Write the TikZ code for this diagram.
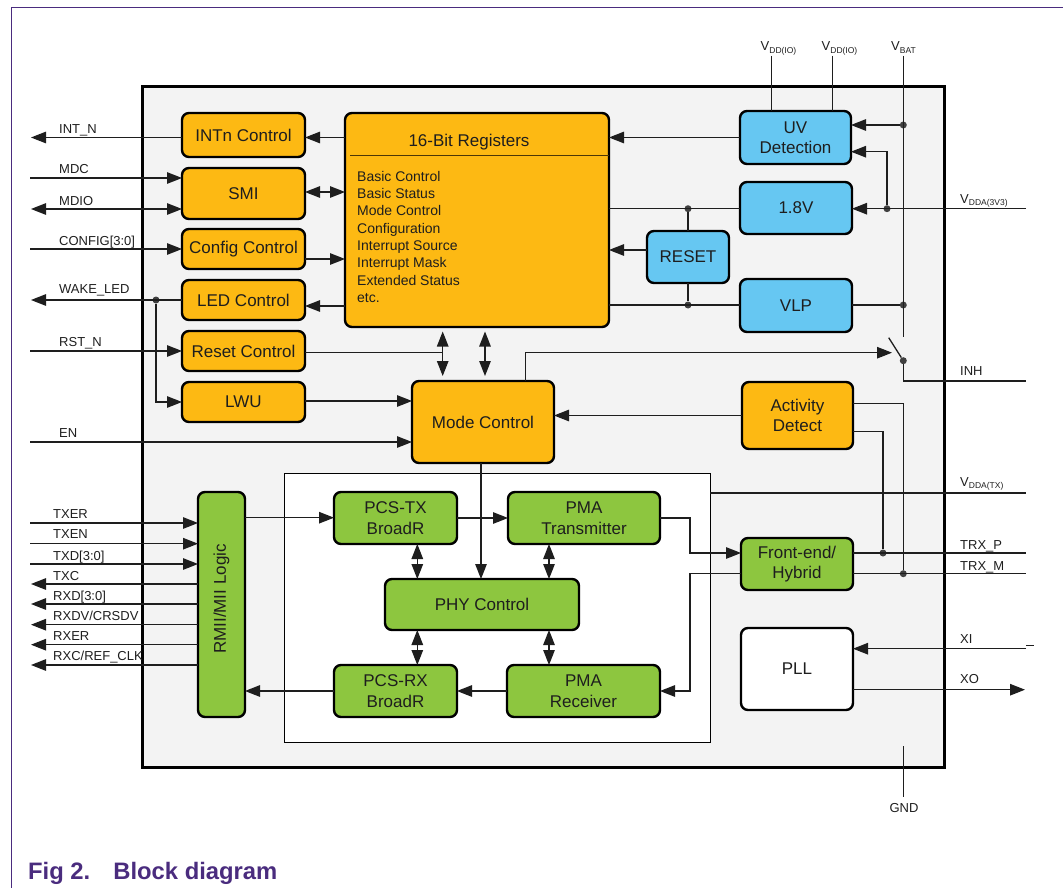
\documentclass[tikz,border=0pt]{standalone}
\usepackage{fontspec}
\usepackage{graphicx}
\setmainfont{Liberation Sans}
\usepackage{tikz}
\usetikzlibrary{arrows.meta, positioning}
\usepackage{xcolor}
\definecolor{ctrlorange}{HTML}{FDB913}
\definecolor{powerblue}{HTML}{66C7F2}
\definecolor{phygreen}{HTML}{8DC63F}
\definecolor{chipgray}{HTML}{F3F3F3}
\definecolor{nxppurple}{HTML}{4A2C7E}
\definecolor{inkdark}{HTML}{1E1E1E}
\newcommand{\vsub}[1]{V\raisebox{-0.35ex}{\fontsize{8.5}{9}\selectfont #1}}

\begin{document}
\begin{tikzpicture}
            [
            x=1pt, y=-1pt,
            block/.style={
                rectangle,
                draw=black,
                line width=2.4pt,
                rounded corners=7pt,
                outer sep=0pt,
                inner sep=0pt,
                align=center,
                text=inkdark,
                font=\fontsize{17}{20.5}\selectfont
            },
            ctrl/.style={
                block,
                fill=ctrlorange
            },
            power/.style={
                block,
                fill=powerblue
            },
            phy/.style={
                block,
                fill=phygreen
            },
            pinlabel/.style={
                anchor=west,
                inner sep=0pt,
                text height=9.3pt,
                text depth=0pt,
                text=inkdark,
                font=\fontsize{13}{13}\selectfont
            },
            wire/.style={
                line width=1.3pt,
                draw=inkdark
            },
            arrow/.style={
                wire,
                -{Triangle[length=15pt, width=11.5pt]}
            },
            biarrow/.style={
                wire,
                {Triangle[length=15pt, width=11.5pt]}-{Triangle[length=15pt, width=11.5pt]}
            },
            junction/.style={
                circle,
                fill=black!75,
                minimum size=7pt,
                inner sep=0pt
            }
            ]
            \useasboundingbox (0,0) rectangle (1063,888);

            % page frame and caption
            \draw[nxppurple, line width=1.2pt] (11.5,888) -- (11.5,7.5) -- (1063,7.5);
            \node (caption) [anchor=west, inner sep=0pt, text=nxppurple, font=\fontsize{23.8}{24}\selectfont\bfseries] at (28,873) {Fig 2.\hspace{23pt}Block diagram};

            % chip outline and the white PHY area
            \node (chip) [draw=black, line width=3pt, fill=chipgray, minimum width=802pt, minimum height=680pt, outer sep=0pt] at (543,427) {};
            \node (phyarea) [draw=black, line width=0.8pt, fill=white, minimum width=425.5pt, minimum height=269pt, outer sep=0pt] at (497.25,607.5) {};

            % left column of control blocks
            \node (intn) [ctrl, minimum width=123pt, minimum height=44pt] at (243.5,135) {INTn Control};
            \node (smi) [ctrl, minimum width=123pt, minimum height=51pt, below=11pt of intn] {SMI};
            \node (config) [ctrl, minimum width=123pt, minimum height=40pt, below=10pt of smi] {Config Control};
            \node (led) [ctrl, minimum width=123pt, minimum height=40pt, below=11pt of config] {LED Control};
            \node (rstctrl) [ctrl, minimum width=123pt, minimum height=40pt, below=11pt of led] {Reset Control};
            \node (lwu) [ctrl, minimum width=123pt, minimum height=40pt, below=11pt of rstctrl] {LWU};

            % register block
            \node (regs) [ctrl, minimum width=264pt, minimum height=214pt] at (477,220) {};
            \node (regstitle) [inner sep=0pt, text=inkdark, font=\fontsize{17}{17}\selectfont] at (469,142) {16-Bit Registers};
            \draw[draw=black!70!ctrlorange, line width=0.8pt] (regs.west |- 0,155.7) ++(5,0) coordinate (ruleleft) -- (regs.east |- 0,155.7);
            \node (regslist) [anchor=north west, inner sep=0pt, align=left, text=inkdark, font=\fontsize{14}{17.3}\selectfont] at (357,171) {Basic Control\\Basic Status\\Mode Control\\Configuration\\Interrupt Source\\Interrupt Mask\\Extended Status\\etc.};

            % power blocks
            \node (uv) [power, minimum width=111pt, minimum height=53pt] at (795.5,137.5) {UV\\Detection};
            \node (ldo) [power, minimum width=112pt, minimum height=52pt] at (796,208) {1.8V};
            \node (reset) [power, minimum width=82pt, minimum height=52pt] at (688,257) {RESET};
            \node (vlp) [power, minimum width=112pt, minimum height=53pt] at (796,305.5) {VLP};

            % mode control and activity detect
            \node (mode) [ctrl, minimum width=142pt, minimum height=82pt] at (483,422) {Mode Control};
            \node (activity) [ctrl, minimum width=111pt, minimum height=67pt] at (797.5,415.5) {Activity\\Detect};

            % PHY blocks
            \node (rmii) [phy, minimum width=47pt, minimum height=225pt] at (221.5,604.5) {\rotatebox{90}{\hspace{11pt}RMII/MII Logic}};
            \node (pcstx) [phy, minimum width=123pt, minimum height=52pt] at (395.5,518) {PCS-TX\\BroadR};
            \node (pmatx) [phy, minimum width=152pt, minimum height=52pt] at (584,518) {PMA\\Transmitter};
            \node (phyctrl) [phy, minimum width=194pt, minimum height=51pt] at (482,604.5) {PHY Control};
            \node (pcsrx) [phy, minimum width=123pt, minimum height=52pt] at (395.5,691) {PCS-RX\\BroadR};
            \node (pmarx) [phy, minimum width=153pt, minimum height=52pt] at (583.5,691) {PMA\\Receiver};
            \node (frontend) [phy, minimum width=112pt, minimum height=52pt] at (797,564) {Front-end/\\Hybrid};
            \node (pll) [block, fill=white, minimum width=112pt, minimum height=82pt] at (797,669) {PLL};

            % free ends of the pins on the left
            \coordinate (pinINTN) at (31,137.5);
            \coordinate (pinMDC) at (30,178);
            \coordinate (pinMDIO) at (31,209);
            \coordinate (pinCONFIG) at (30,249);
            \coordinate (pinWAKE) at (31,300);
            \coordinate (pinRST) at (30,351);
            \coordinate (pinEN) at (30,442);
            \coordinate (pinTXER) at (30,523);
            \coordinate (pinTXEN) at (30,543.7);
            \coordinate (pinTXD) at (30,564);
            \coordinate (pinTXC) at (31,584);
            \coordinate (pinRXD) at (31,604);
            \coordinate (pinRXDV) at (31,624.7);
            \coordinate (pinRXER) at (31,644.7);
            \coordinate (pinRXC) at (31,665);

            % free ends of the pins on the other sides
            \coordinate (pinVDDA) at (1026,208.7);
            \coordinate (pinINH) at (1026,381);
            \coordinate (pinVDDTX) at (1026,493);
            \coordinate (pinTRXP) at (1026,553);
            \coordinate (pinTRXM) at (1026,573.7);
            \coordinate (pinXI) at (1026,648.7);
            \coordinate (pinXO) at (1025,689.7);
            \coordinate (pinVDDa) at (771.7,56);
            \coordinate (pinVDDb) at (832.3,56);
            \coordinate (pinVBAT) at (903.3,56);
            \coordinate (pinGNDin) at (903.3,746);
            \coordinate (pinGND) at (903.3,797);

            % pin labels
            \node (lblINTN) [pinlabel] at (59,129.3) {INT\_N};
            \node (lblMDC) [pinlabel] at (59,169.3) {MDC};
            \node (lblMDIO) [pinlabel] at (59,200.6) {MDIO};
            \node (lblCONFIG) [pinlabel] at (59,240.5) {CONFIG[3:0]};
            \node (lblWAKE) [pinlabel] at (59,289.3) {WAKE\_LED};
            \node (lblRST) [pinlabel] at (59,342) {RST\_N};
            \node (lblEN) [pinlabel] at (59,433.3) {EN};
            \node (lblTXER) [pinlabel] at (53,514.3) {TXER};
            \node (lblTXEN) [pinlabel] at (53,534) {TXEN};
            \node (lblTXD) [pinlabel] at (53,555.7) {TXD[3:0]};
            \node (lblTXC) [pinlabel] at (53,575.7) {TXC};
            \node (lblRXD) [pinlabel] at (53,595.7) {RXD[3:0]};
            \node (lblRXDV) [pinlabel] at (53,615.7) {RXDV/CRSDV};
            \node (lblRXER) [pinlabel] at (53,636) {RXER};
            \node (lblRXC) [pinlabel] at (53,656) {RXC/REF\_CLK};
            \node (lblVDDa) [pinlabel, anchor=center] at (778.5,46) {\vsub{DD(IO)}};
            \node (lblVDDb) [pinlabel, anchor=center] at (839.5,46) {\vsub{DD(IO)}};
            \node (lblVBAT) [pinlabel, anchor=center] at (903.5,46) {\vsub{BAT}};
            \node (lblVDDA) [pinlabel] at (960,198.5) {\vsub{DDA(3V3)}};
            \node (lblINH) [pinlabel] at (960,370.5) {INH};
            \node (lblVDDTX) [pinlabel] at (960,481.5) {\vsub{DDA(TX)}};
            \node (lblTRXP) [pinlabel] at (960,544.5) {TRX\_P};
            \node (lblTRXM) [pinlabel] at (960,565.5) {TRX\_M};
            \node (lblXI) [pinlabel] at (960,638.5) {XI};
            \node (lblXO) [pinlabel] at (960,678.5) {XO};
            \node (lblGND) [pinlabel, anchor=center] at (904,808) {GND};

            % junction dots
            \node (dotVbatUv) [junction] at (903.3,125) {};
            \node (dotVbatVlp) [junction] at (903.3,305) {};
            \node (dotVdda) [junction] at (887,208.7) {};
            \node (dotLdo) [junction] at (688,208.7) {};
            \node (dotVlp) [junction] at (688,305) {};
            \node (dotSwitch) [junction] at (903.3,360.7) {};
            \node (dotWake) [junction] at (156,300) {};
            \node (dotTrxP) [junction] at (883,553) {};
            \node (dotTrxM) [junction] at (903.3,573.7) {};

            % left pins
            \draw[arrow] (intn.west |- pinINTN) -- (pinINTN);
            \draw[arrow] (pinMDC) -- (pinMDC -| smi.west);
            \draw[biarrow] (pinMDIO) -- (pinMDIO -| smi.west);
            \draw[arrow] (pinCONFIG) -- (pinCONFIG -| config.west);
            \draw[arrow] (led.west |- pinWAKE) -- (pinWAKE);
            \draw[arrow] (dotWake) |- (lwu.west);
            \draw[arrow] (pinRST) -- (pinRST -| rstctrl.west);
            \draw[arrow] (pinEN) -- (pinEN -| mode.west);
            \draw[arrow] (pinTXER) -- (pinTXER -| rmii.west);
            \draw[arrow] (pinTXEN) -- (pinTXEN -| rmii.west);
            \draw[arrow] (pinTXD) -- (pinTXD -| rmii.west);
            \draw[arrow] (rmii.west |- pinTXC) -- (pinTXC);
            \draw[arrow] (rmii.west |- pinRXD) -- (pinRXD);
            \draw[arrow] (rmii.west |- pinRXDV) -- (pinRXDV);
            \draw[arrow] (rmii.west |- pinRXER) -- (pinRXER);
            \draw[arrow] (rmii.west |- pinRXC) -- (pinRXC);

            % registers to the control column
            \draw[arrow] (regs.west |- pinINTN) -- (intn.east |- pinINTN);
            \draw[biarrow] (smi.east |- 0,192) -- (regs.west |- 0,192);
            \draw[arrow] (config.east |- 0,259) -- (regs.west |- 0,259);
            \draw[arrow] (regs.west |- 0,306) -- (led.east |- 0,306);

            % registers to mode control
            \coordinate (busA) at (442.7,331.5);
            \coordinate (busB) at (485,331.5);
            \draw[biarrow] (busA) -- (busA |- 0,376);
            \draw[biarrow] (busB) -- (busB |- 0,376);
            \draw[wire] (rstctrl.east |- 0,352.7) -- (busA |- 0,352.7);
            \draw[arrow] (lwu.east |- 0,401) -- (mode.west |- 0,401);

            % power side
            \draw[wire] (pinVDDa) -- (pinVDDa |- uv.north);
            \draw[wire] (pinVDDb) -- (pinVDDb |- uv.north);
            \coordinate (vbatEnd) at (903.3,336.7);
            \draw[wire] (pinVBAT) -- (vbatEnd);
            \draw[arrow] (dotVbatUv) -- (dotVbatUv -| uv.east);
            \draw[arrow] (uv.west) -- (uv.west -| regs.east);
            \draw[arrow] (dotVdda) |- (uv.east |- 0,151.7);
            \draw[arrow] (pinVDDA) -- (pinVDDA -| ldo.east);
            \draw[wire] (regs.east |- dotLdo) -- (ldo.west |- dotLdo);
            \draw[wire] (regs.east |- dotVlp) -- (vlp.west |- dotVlp);
            \draw[wire] (vlp.east |- dotVbatVlp) -- (dotVbatVlp);
            \draw[wire] (dotLdo) -- (reset.north);
            \draw[wire] (reset.south) -- (dotVlp);
            \draw[arrow] (reset.west |- 0,250) -- (regs.east |- 0,250);

            % inhibit switch
            \coordinate (switchTop) at (888.7,337.7);
            \draw[wire] (switchTop) -- (dotSwitch);
            \draw[wire] (dotSwitch) |- (pinINH);
            \draw[arrow] (mode.north -| 525.7,0) |- (892,352.7);

            % activity detect and line side
            \draw[arrow] (activity.west) -- (activity.west -| mode.east);
            \draw[wire] (activity.east |- 0,403.3) -| (dotTrxM);
            \draw[wire] (activity.east |- 0,431.7) -| (dotTrxP);
            \draw[wire] (phyarea.east |- pinVDDTX) -- (pinVDDTX);
            \draw[wire] (frontend.east |- pinTRXP) -- (pinTRXP);
            \draw[wire] (frontend.east |- pinTRXM) -- (pinTRXM);
            \draw[arrow] (pinXI) -- (pinXI -| pll.east);
            \draw[arrow] (pll.east |- pinXO) -- (pinXO);
            \draw[wire, line width=0.6pt] (pinXI) ++(0,-3) -- ++(8,0);
            \draw[wire] (pinGNDin) -- (pinGND);

            % PHY datapath
            \draw[arrow] (rmii.east |- 0,517.7) -- (pcstx.west |- 0,517.7);
            \draw[arrow] (pcstx.east) -- (pmatx.west);
            \draw[arrow] (pmarx.west) -- (pcsrx.east);
            \draw[arrow] (pcsrx.west) -- (pcsrx.west -| rmii.east);
            \draw[arrow] ([xshift=-1pt]mode.south -| phyctrl.north) -- ([xshift=-1pt]phyctrl.north);
            \draw[biarrow] (pcstx.south |- 0,544) ++(21.8,0) coordinate (linkA) -- (linkA |- phyctrl.north);
            \draw[biarrow] (pmatx.south |- 0,544) ++(-35,0) coordinate (linkB) -- (linkB |- phyctrl.north);
            \draw[biarrow] (linkA |- phyctrl.south) -- (linkA |- pcsrx.north);
            \draw[biarrow] (linkB |- phyctrl.south) -- (linkB |- pmarx.north);
            \draw[arrow] (pmatx.east) -- ++(30,0) |- (frontend.west |- pinTRXP);
            \draw[arrow] (frontend.west |- pinTRXM) -- ++(-51,0) |- (pmarx.east);

        \end{tikzpicture}
\end{document}
